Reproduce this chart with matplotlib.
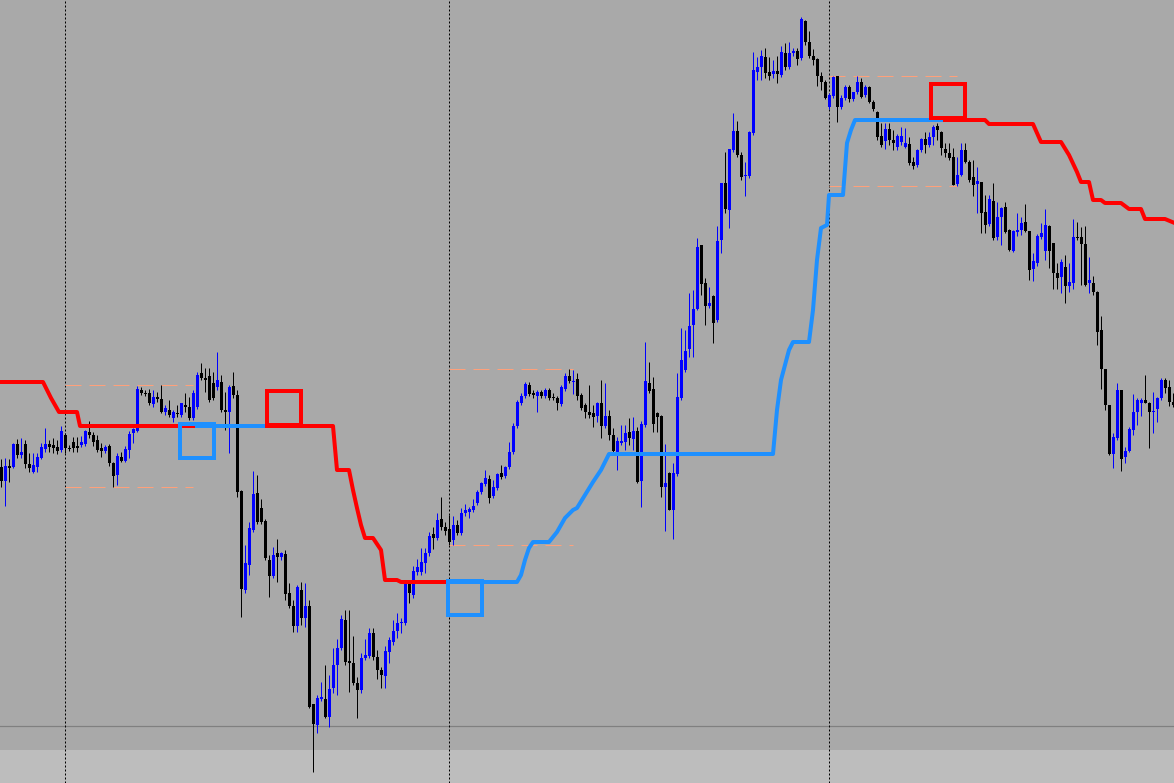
import numpy as np
import matplotlib
matplotlib.use("Agg")
import matplotlib.pyplot as plt

# M15 candles, price in points
opens = [
    333, 319, 334, 333, 356, 345, 356, 336, 328, 333,
    342, 351, 356, 355, 353, 350, 365, 352, 358, 354,
    355, 356, 368, 365, 360, 352, 349, 354, 337, 325,
    343, 339, 350, 367, 369, 410, 407, 407, 396, 403,
    401, 388, 390, 382, 387, 385, 395, 393, 382, 393,
    427, 422, 424, 417, 413, 418, 390, 388, 414, 405,
    309, 210, 235, 270, 307, 292, 279, 240, 224, 247,
    243, 246, 207, 194, 174, 210, 182, 194, 96, 75,
    101, 101, 83, 112, 135, 152, 180, 139, 137, 117,
    110, 142, 144, 167, 143, 130, 124, 148, 158, 169,
    177, 177, 216, 205, 228, 228, 237, 247, 266, 262,
    281, 273, 271, 260, 275, 267, 287, 288, 290, 297,
    308, 316, 321, 304, 312, 327, 324, 333, 348, 374,
    397, 404, 415, 407, 404, 408, 404, 410, 403, 402,
    396, 411, 424, 418, 421, 405, 395, 388, 387, 384,
    397, 374, 384, 365, 348, 357, 358, 368, 361, 369,
    319, 375, 417, 411, 387, 384, 313, 327, 290, 326,
    402, 430, 451, 475, 491, 555, 517, 494, 504, 480,
    560, 617, 590, 650, 669, 645, 624, 624, 667, 728,
    733, 743, 728, 726, 729, 725, 747, 733, 747, 749,
    742, 779, 758, 744, 741, 724, 718, 693, 704, 724,
    693, 702, 713, 701, 708, 718, 705, 713, 698, 688,
    664, 659, 671, 660, 653, 658, 653, 656, 638, 635,
    650, 661, 655, 663, 674, 668, 651, 647, 643, 616,
    625, 650, 638, 623, 616, 618, 588, 576, 599, 563,
    583, 593, 570, 549, 568, 570, 578, 569, 531, 537,
    563, 549, 574, 557, 527, 523, 533, 514, 517, 563,
    563, 556, 517, 517, 508, 470, 431, 395, 346, 362,
    410, 343, 349, 370, 388, 397, 400, 397, 388, 391,
    402, 420, 413, 398]

highs = [
    341, 342, 341, 357, 361, 362, 360, 347, 347, 347,
    357, 372, 360, 362, 360, 374, 367, 355, 363, 363,
    364, 370, 379, 368, 365, 357, 355, 356, 338, 347,
    348, 354, 369, 372, 414, 413, 410, 411, 410, 408,
    415, 395, 400, 390, 395, 397, 407, 403, 410, 428,
    437, 432, 432, 428, 448, 425, 408, 415, 428, 410,
    310, 255, 278, 329, 325, 301, 281, 245, 253, 261,
    248, 250, 217, 200, 215, 218, 217, 200, 96, 105,
    118, 135, 125, 152, 161, 185, 190, 190, 164, 123,
    147, 161, 172, 172, 150, 133, 154, 163, 180, 187,
    182, 220, 218, 234, 241, 252, 252, 268, 273, 287,
    303, 278, 285, 284, 280, 292, 296, 293, 301, 310,
    318, 330, 325, 320, 327, 335, 334, 358, 377, 400,
    407, 418, 418, 410, 410, 410, 412, 412, 407, 404,
    415, 427, 431, 430, 427, 407, 397, 415, 395, 398,
    420, 417, 390, 372, 363, 375, 375, 382, 383, 373,
    379, 458, 438, 423, 388, 385, 356, 328, 337, 427,
    472, 470, 507, 510, 562, 555, 522, 513, 505, 574,
    617, 648, 651, 687, 679, 648, 638, 669, 748, 743,
    750, 752, 743, 740, 744, 754, 757, 758, 752, 752,
    783, 780, 769, 751, 742, 728, 720, 707, 724, 724,
    705, 715, 715, 708, 724, 722, 715, 714, 700, 689,
    677, 677, 677, 670, 666, 673, 672, 663, 643, 651,
    662, 668, 668, 675, 677, 669, 657, 657, 652, 643,
    657, 657, 640, 640, 633, 618, 605, 605, 617, 598,
    593, 598, 571, 570, 587, 583, 596, 569, 547, 566,
    577, 591, 575, 557, 537, 541, 545, 537, 581, 578,
    573, 574, 543, 524, 509, 484, 431, 395, 367, 417,
    410, 353, 373, 406, 402, 402, 425, 398, 408, 403,
    422, 422, 420, 407]

lows = [
    313, 294, 318, 332, 342, 342, 332, 328, 327, 328,
    341, 348, 348, 347, 346, 348, 347, 349, 348, 348,
    353, 354, 362, 354, 348, 343, 347, 334, 313, 315,
    338, 338, 342, 357, 368, 405, 404, 395, 393, 398,
    387, 385, 383, 378, 383, 383, 388, 380, 380, 391,
    420, 408, 398, 400, 410, 388, 370, 347, 402, 303,
    183, 207, 225, 268, 276, 276, 240, 203, 222, 218,
    240, 200, 192, 168, 168, 175, 173, 92, 28, 67,
    99, 82, 73, 107, 105, 150, 135, 108, 115, 82,
    107, 140, 142, 140, 121, 112, 112, 137, 155, 162,
    167, 175, 197, 202, 225, 225, 227, 244, 251, 260,
    270, 265, 255, 255, 265, 265, 284, 282, 288, 295,
    306, 314, 297, 302, 310, 321, 322, 331, 346, 372,
    395, 402, 404, 402, 388, 402, 402, 400, 400, 390,
    394, 409, 417, 406, 400, 390, 382, 382, 373, 378,
    362, 372, 360, 347, 330, 355, 350, 355, 350, 317,
    293, 373, 407, 368, 368, 303, 269, 290, 261, 324,
    400, 428, 443, 443, 490, 505, 475, 492, 457, 478,
    547, 587, 572, 648, 643, 620, 604, 622, 665, 720,
    720, 722, 720, 722, 717, 723, 730, 731, 744, 735,
    740, 755, 742, 735, 714, 710, 701, 691, 702, 678,
    691, 700, 698, 699, 706, 702, 703, 697, 689, 660,
    653, 651, 655, 650, 650, 655, 652, 635, 631, 633,
    648, 647, 653, 655, 660, 645, 643, 640, 615, 614,
    624, 637, 618, 604, 587, 567, 567, 574, 560, 560,
    555, 567, 549, 548, 564, 565, 568, 520, 519, 534,
    561, 540, 532, 511, 511, 507, 497, 508, 511, 560,
    515, 514, 507, 505, 455, 411, 390, 345, 332, 360,
    329, 337, 348, 365, 375, 384, 397, 352, 367, 378,
    400, 407, 394, 393]

closes = [
    319, 334, 332, 356, 345, 348, 336, 332, 335, 343,
    353, 356, 353, 352, 349, 369, 352, 351, 352, 352,
    358, 369, 365, 358, 350, 349, 353, 337, 324, 344,
    339, 351, 366, 371, 411, 407, 406, 397, 403, 401,
    388, 392, 385, 388, 386, 397, 393, 382, 407, 425,
    422, 420, 400, 402, 420, 390, 388, 413, 405, 308,
    211, 237, 272, 306, 278, 278, 242, 224, 245, 243,
    247, 206, 194, 174, 213, 182, 194, 93, 76, 102,
    103, 83, 111, 135, 152, 181, 138, 137, 117, 110,
    142, 145, 167, 143, 130, 125, 149, 160, 169, 177,
    178, 217, 207, 229, 233, 238, 247, 264, 262, 280,
    273, 269, 258, 275, 267, 287, 290, 291, 294, 308,
    317, 322, 302, 313, 326, 323, 333, 348, 374, 398,
    404, 416, 406, 405, 408, 404, 410, 402, 402, 397,
    413, 424, 419, 419, 404, 392, 388, 385, 383, 397,
    374, 384, 365, 349, 359, 359, 367, 362, 369, 318,
    376, 419, 409, 376, 383, 313, 317, 290, 327, 403,
    440, 449, 474, 491, 553, 516, 494, 497, 477, 559,
    617, 591, 651, 669, 645, 623, 625, 668, 730, 733,
    744, 727, 724, 729, 726, 748, 733, 747, 749, 741,
    781, 758, 744, 740, 724, 718, 702, 705, 723, 693,
    702, 713, 701, 708, 718, 703, 713, 698, 691, 663,
    655, 671, 660, 657, 664, 664, 657, 637, 634, 650,
    661, 655, 663, 673, 670, 652, 647, 642, 615, 625,
    650, 638, 620, 615, 619, 587, 575, 601, 562, 583,
    592, 568, 550, 569, 570, 577, 569, 530, 539, 564,
    567, 575, 549, 527, 522, 538, 514, 518, 563, 562,
    556, 515, 520, 508, 468, 431, 395, 346, 363, 410,
    341, 349, 371, 388, 400, 400, 397, 388, 389, 402,
    420, 412, 398, 395]

# trailing stop lines: (bar index, price) breakpoints
red1_x = [-1, 10.5, 11.5, 12.5, 13.5, 14.5, 19, 19.75, 48.5]
red1_y = [418, 418, 410, 402, 395, 388, 388, 374, 374]
blue1_x = [48.5, 66]
blue1_y = [374, 374]
red2_x = [66, 83, 84, 87, 88, 89, 90, 91, 93, 95, 96, 99, 100, 115]
red2_y = [374, 374, 330, 330, 310, 292, 275, 262, 262, 250, 220, 220, 218, 218]
blue2_x = [112, 129, 130, 131, 132, 133, 137, 139, 141, 143, 144, 146, 148, 150,
           152, 193, 194, 195, 196, 197, 198, 202, 203, 204, 205, 206.5, 207,
           210.5, 211.5, 212.5, 213.5, 235.5]
blue2_y = [218, 218, 225, 240, 252, 258, 258, 268, 282, 290, 292, 305, 318, 330,
           346, 346, 390, 420, 435, 450, 458, 458, 490, 540, 572, 575, 605,
           605, 657, 670, 680, 680]
red3_x = [232, 246, 247, 258, 260, 265, 267, 269, 270, 272, 273, 275, 276, 280,
          282, 285, 286, 291, 294]
red3_y = [680, 680, 676, 676, 658, 658, 645, 628, 618, 618, 600, 600, 597, 597,
          591, 591, 581, 581, 576]

# signal boxes
buy_idx = [49, 116]
buy_px = [359, 202]
sell_idx = [70.75, 236.75]
sell_px = [392, 699]

# day separators and session boxes (start/end bar)
day_sep = [16, 112, 207]
sess_start = [16, 112, 207]
sess_end = [48, 143, 239]

o = np.array(opens); h = np.array(highs); l = np.array(lows); c = np.array(closes)
x = np.arange(len(o))
up = c >= o
cols = np.where(up, '#0000ff', '#000000')

PX = 72 / 100  # one pixel in points
fig = plt.figure(figsize=(11.74, 7.83), dpi=100, facecolor='#a9a9a9')
ax = fig.add_axes([0, 0, 1, 1])
ax.set_facecolor('#a9a9a9')

ax.axhspan(17, 50, color='#bdbdbd', lw=0, zorder=0)
ax.axhline(74, color='#808080', lw=1.2 * PX, zorder=1)
for d in day_sep:
    ax.axvline(d, color='black', lw=PX, ls=(0, (2, 2)), zorder=1)

for s, e in zip(sess_start, sess_end):
    hi = h[s:e + 1].max()
    lo = l[s:e + 1].min()
    for lvl in (hi, lo):
        ax.plot([s, e], [lvl, lvl], color='#ffa07a', lw=PX, ls=(0, (16, 8)), zorder=1.5)

# candles
ax.vlines(x, l, h, colors=cols, lw=PX, zorder=2)
body = np.maximum(np.abs(c - o), 1)
ax.bar(x, body, bottom=np.minimum(o, c), width=0.75, color=cols, lw=0, zorder=3)

lw = 4 * PX
for xs, ys in [(red1_x, red1_y), (red2_x, red2_y), (red3_x, red3_y)]:
    ax.plot(xs, ys, color='#ff0000', lw=lw, solid_capstyle='butt', zorder=4)
for xs, ys in [(blue1_x, blue1_y), (blue2_x, blue2_y)]:
    ax.plot(xs, ys, color='#1e90ff', lw=lw, solid_capstyle='butt', zorder=4)

ax.plot(buy_idx, buy_px, ls='none', marker='s', ms=34 * PX, mfc='none',
        mec='#1e90ff', mew=4 * PX, zorder=6)
ax.plot(sell_idx, sell_px, ls='none', marker='s', ms=34 * PX, mfc='none',
        mec='#ff0000', mew=4 * PX, zorder=6)

ax.set_xlim(-0.25, 293.25)
ax.set_ylim(17, 800)
ax.set_xticks([]); ax.set_yticks([])
for sp in ax.spines.values():
    sp.set_visible(False)

fig.savefig('out.png', dpi=100, facecolor=fig.get_facecolor())
